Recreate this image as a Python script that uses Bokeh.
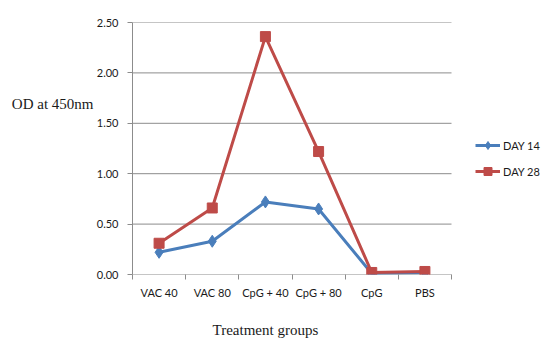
from bokeh.plotting import figure
from bokeh.models import FixedTicker, NumeralTickFormatter, Legend, LegendItem, LinearAxis, Range1d
from bokeh.embed import file_html
from bokeh.resources import INLINE

categories = ["VAC 40", "VAC 80", "CpG + 40", "CpG + 80", "CpG", "PBS"]
day14 = [0.22, 0.33, 0.72, 0.65, 0.01, 0.02]
day28 = [0.31, 0.66, 2.36, 1.22, 0.02, 0.03]
y_ticks = [0.0, 0.5, 1.0, 1.5, 2.0, 2.5]
y_title = "OD at 450nm"
x_title = "Treatment groups"

n = len(categories)
xs = [i + 0.5 for i in range(n)]

# frame spans the plot and the legend area; the data area uses 0..n of it
p = figure(width=550, height=347, output_backend="svg", toolbar_location=None,
           x_range=Range1d(0, n * 413 / 319), y_range=Range1d(0, 2.5),
           min_border_left=132, min_border_right=5, min_border_top=22, min_border_bottom=73)
p.outline_line_color = None
p.background_fill_color = "white"

GRAY = "#8c8c8c"
TXT = "#1a1a1a"

# horizontal grid lines, limited to the category area
p.segment(x0=[0] * len(y_ticks), x1=[n] * len(y_ticks), y0=y_ticks, y1=y_ticks,
          line_color=GRAY, line_width=1)
p.xgrid.grid_line_color = None
p.ygrid.grid_line_color = None

p.xaxis.ticker = FixedTicker(ticks=xs, minor_ticks=list(range(n + 1)))
p.xaxis.major_label_overrides = {x: c for x, c in zip(xs, categories)}
p.xaxis.major_tick_line_color = None
p.xaxis.minor_tick_in = 0
p.xaxis.minor_tick_out = 5
p.xaxis.minor_tick_line_color = GRAY
p.xaxis.axis_line_color = None
p.xaxis.major_label_standoff = 5

p.yaxis.ticker = FixedTicker(ticks=y_ticks, minor_ticks=[])
p.yaxis.formatter = NumeralTickFormatter(format="0.00")
p.yaxis.major_tick_in = 0
p.yaxis.major_tick_out = 5
p.yaxis.major_tick_line_color = GRAY
p.yaxis.axis_line_color = GRAY
p.yaxis.major_label_standoff = 9

for ax in (p.xaxis, p.yaxis):
    ax.major_label_text_font = "Lato"
    ax.major_label_text_font_size = "11px"
    ax.major_label_text_color = TXT

# axis titles as single-tick extra axes (horizontal text at chosen positions)
ytitle_pos = 1.69
yt = LinearAxis(ticker=FixedTicker(ticks=[ytitle_pos], minor_ticks=[]),
                major_label_overrides={ytitle_pos: y_title})
xtitle_pos = (n - 1) / 2
xt = LinearAxis(ticker=FixedTicker(ticks=[xtitle_pos], minor_ticks=[]),
                major_label_overrides={xtitle_pos: x_title})
for ax in (yt, xt):
    ax.axis_line_color = None
    ax.major_tick_line_color = None
    ax.major_tick_in = 0
    ax.major_tick_out = 0
    ax.major_label_text_font = "Liberation Serif"
    ax.major_label_text_font_size = "15px"
    ax.major_label_text_color = TXT
yt.major_label_standoff = 0
xt.major_label_standoff = 20
p.add_layout(yt, "left")
p.add_layout(xt, "below")

BLUE = "#4a7ebb"
RED = "#be4b48"
l1 = p.line(xs, day14, line_color=BLUE, line_width=3)
m1 = p.scatter(xs, day14, marker="diamond", size=12, fill_color=BLUE, line_color=BLUE)
l2 = p.line(xs, day28, line_color=RED, line_width=3)
m2 = p.scatter(xs, day28, marker="square", size=10, fill_color=RED, line_color=RED)

legend = Legend(items=[LegendItem(label="DAY 14", renderers=[l1, m1]),
                       LegendItem(label="DAY 28", renderers=[l2, m2])],
                location=(343, 93), border_line_color=None, background_fill_alpha=0,
                padding=0, margin=0, spacing=6, label_standoff=3, glyph_width=25,
                label_text_font="Lato", label_text_font_size="11px", label_text_color=TXT)
p.add_layout(legend, "center")

open("out.html", "w").write(file_html(p, INLINE))
